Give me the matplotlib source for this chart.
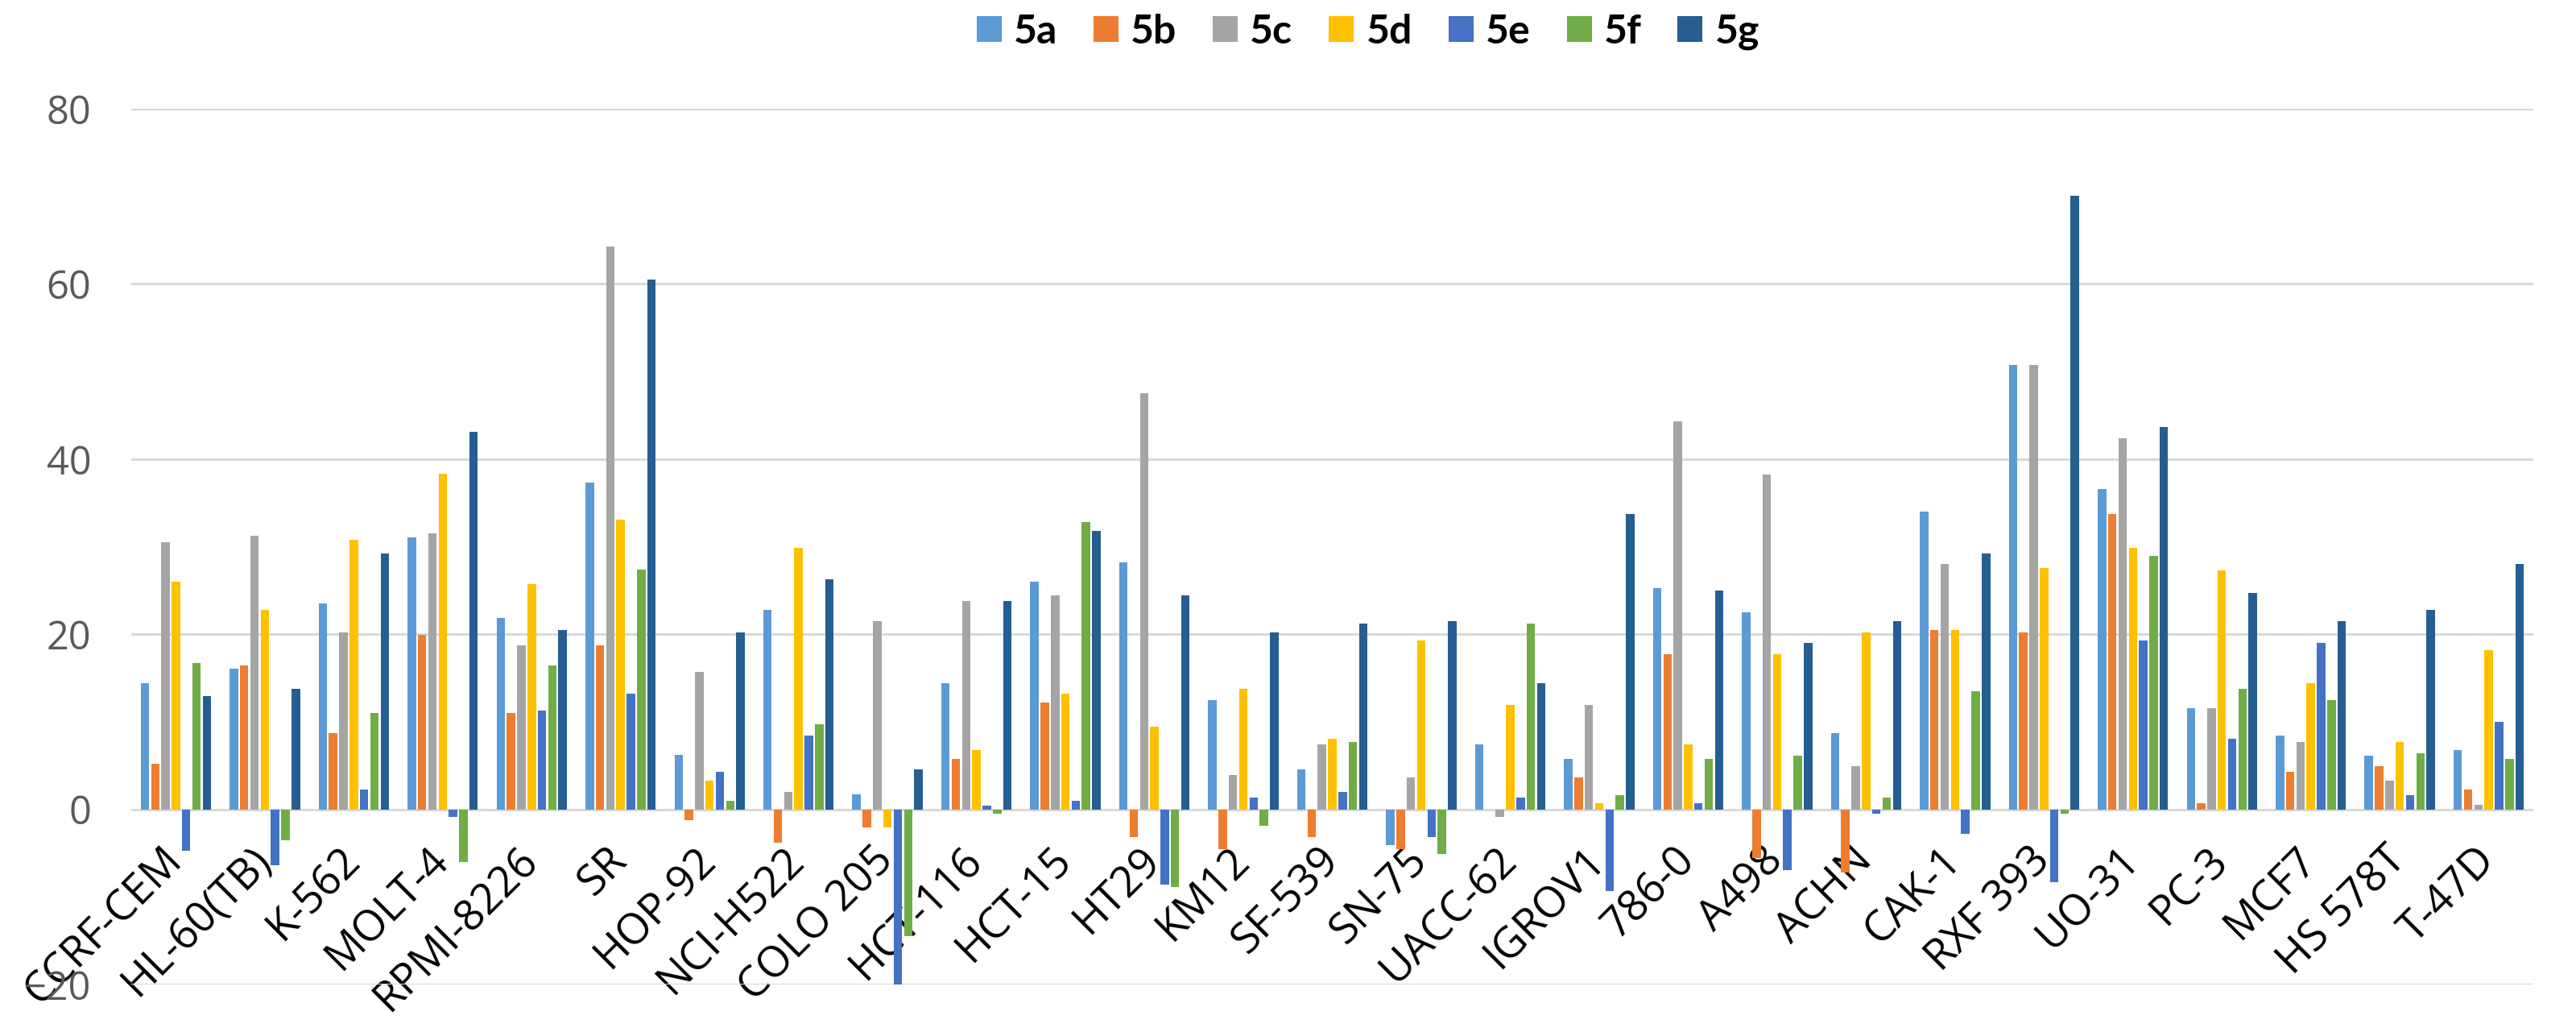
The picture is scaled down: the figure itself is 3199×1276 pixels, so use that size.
import numpy as np
import matplotlib.pyplot as plt

# cell lines on the x axis
cell_lines = ['CCRF-CEM', 'HL-60(TB)', 'K-562', 'MOLT-4', 'RPMI-8226', 'SR',
              'HOP-92', 'NCI-H522', 'COLO 205', 'HCT-116', 'HCT-15', 'HT29',
              'KM12', 'SF-539', 'SN-75', 'UACC-62', 'IGROV1', '786-0', 'A498',
              'ACHN', 'CAK-1', 'RXF 393', 'UO-31', 'PC-3', 'MCF7', 'HS 578T',
              'T-47D']

# values, one list per compound
s5a = [14.4, 16.1, 23.5, 31.1, 21.9, 37.3, 6.2, 22.8, 1.7, 14.4, 26.0, 28.2,
       12.5, 4.6, -4.1, 7.4, 5.8, 25.3, 22.5, 8.7, 34.0, 50.7, 36.6, 11.6,
       8.4, 6.1, 6.8]
s5b = [5.2, 16.4, 8.7, 19.9, 11.0, 18.7, -1.2, -3.8, -2.1, 5.8, 12.2, -3.2,
       -4.5, -3.2, -4.5, 0.0, 3.6, 17.7, -5.6, -7.2, 20.5, 20.2, 33.7, 0.7,
       4.3, 4.9, 2.3]
s5c = [30.5, 31.2, 20.2, 31.5, 18.7, 64.3, 15.7, 2.0, 21.5, 23.8, 24.4, 47.5,
       3.9, 7.4, 3.6, -0.9, 11.9, 44.3, 38.2, 4.9, 28.0, 50.7, 42.4, 11.6,
       7.7, 3.3, 0.5]
s5d = [26.0, 22.8, 30.8, 38.3, 25.7, 33.1, 3.3, 29.9, -2.1, 6.8, 13.2, 9.4,
       13.8, 8.1, 19.3, 11.9, 0.7, 7.4, 17.7, 20.2, 20.5, 27.6, 29.9, 27.3,
       14.4, 7.7, 18.2]
s5e = [-4.7, -6.4, 2.3, -0.9, 11.3, 13.2, 4.3, 8.4, -22.5, 0.4, 1.0, -8.6,
       1.3, 2.0, -3.2, 1.3, -9.3, 0.7, -6.9, -0.5, -2.8, -8.3, 19.3, 8.1,
       19.0, 1.6, 10.0]
s5f = [16.7, -3.5, 11.0, -6.0, 16.4, 27.4, 1.0, 9.7, -14.5, -0.5, 32.8, -8.9,
       -1.9, 7.7, -5.1, 21.2, 1.6, 5.8, 6.1, 1.3, 13.5, -0.5, 28.9, 13.8,
       12.5, 6.4, 5.8]
s5g = [12.9, 13.8, 29.2, 43.1, 20.5, 60.5, 20.2, 26.3, 4.6, 23.8, 31.8, 24.4,
       20.2, 21.2, 21.5, 14.4, 33.7, 25.0, 19.0, 21.5, 29.2, 70.1, 43.7, 24.7,
       21.5, 22.8, 28.0]

series_names = ['5a', '5b', '5c', '5d', '5e', '5f', '5g']
series = [s5a, s5b, s5c, s5d, s5e, s5f, s5g]
colors = ['#5B9BD5', '#ED7D31', '#A5A5A5', '#FFC000', '#4472C4', '#70AD47', '#255E91']

fig = plt.figure(figsize=(31.99, 12.76), dpi=100)
ax = fig.add_axes([0.051, 0.0423, 0.9324, 0.8519])

x = np.arange(len(cell_lines))
slot = 0.116
bar_w = 0.095
for i, (name, vals, c) in enumerate(zip(series_names, series, colors)):
    ax.bar(x + (i - 3) * slot, vals, width=bar_w, color=c, label=name)

ax.set_xlim(-0.5, len(cell_lines) - 0.5)
ax.set_ylim(-20, 80)
ax.set_yticks([-20, 0, 20, 40, 60, 80])

# grid lines only, no frame
ax.set_axisbelow(True)
ax.yaxis.grid(True, color='#D9D9D9', linewidth=2.2)
for sp in ax.spines.values():
    sp.set_visible(False)

# category labels hang just under the zero line
ax.spines['bottom'].set_position(('data', 0))
ax.set_xticks(x)
ax.set_xticklabels(cell_lines, rotation=45, ha='right', va='center',
                   rotation_mode='anchor', fontsize=38, family='Open Sans',
                   color='black')
ax.tick_params(axis='x', length=0, pad=40)
ax.tick_params(axis='y', length=0, pad=36, labelsize=35, labelcolor='#595959')
for lab in ax.get_yticklabels():
    lab.set_family('Open Sans')

leg = fig.legend(loc='center', bbox_to_anchor=(0.531, 0.969), ncol=7,
                 frameon=False, handlelength=0.62, handleheight=0.62,
                 handletextpad=0.3, columnspacing=0.9,
                 prop={'family': 'Lato', 'weight': 'bold', 'size': 36})

fig.savefig('out.png', dpi=100)
